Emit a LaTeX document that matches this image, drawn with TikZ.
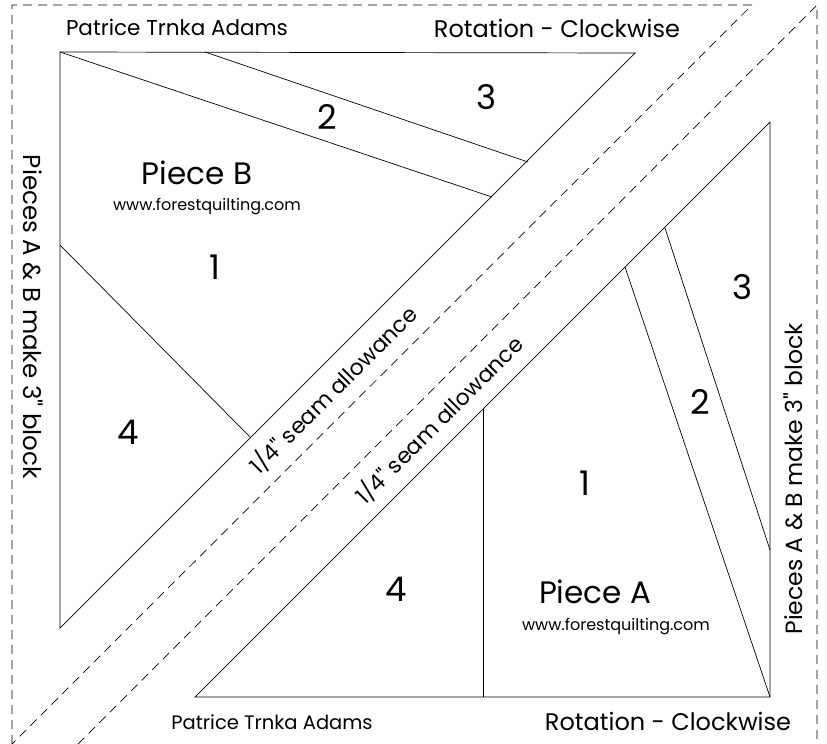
\documentclass[tikz,border=0pt]{standalone}
\usepackage{fontspec}
\setmainfont{Poppins}[Ligatures=TeXOff]
\usepackage{tikz}

\begin{document}
\begin{tikzpicture}[x=1pt,y=-1pt]
	\tikzstyle{piece_line} = [draw=black, line width=0.7pt]
	\tikzstyle{seam_line} = [draw=black, line width=0.7pt, dash pattern=on 9pt off 6pt]
	\tikzstyle{label_num} = [inner sep=0pt, font=\fontsize{34}{34}\selectfont]
	\tikzstyle{label_piece} = [inner sep=0pt, font=\fontsize{31}{31}\selectfont]
	\tikzstyle{label_url} = [inner sep=0pt, font=\fontsize{16}{16}\selectfont]
	\tikzstyle{label_side} = [inner sep=0pt, font=\fontsize{24}{24}\selectfont]
	\tikzstyle{label_seam} = [inner sep=0pt, font=\fontsize{22}{22}\selectfont, rotate=45]

	\useasboundingbox (0,0) rectangle (827,744);

%------------------------------------------------------------
	\coordinate (d1_top) at (12,5);
	\coordinate (d1_right) at (752,5);
	\coordinate (d1_bottom) at (12,744);
	\draw[seam_line] (d1_bottom) -- (d1_top) -- (d1_right) -- cycle;

	\coordinate (d2_top) at (817,5);
	\coordinate (d2_bottom) at (817,744);
	\coordinate (d2_left) at (78,744);
	\draw[seam_line] (d2_left) -- (d2_top) -- (d2_bottom);

%------------------------------------------------------------
	\coordinate (b0) at (60,52);
	\coordinate (b1) at (635,53);
	\coordinate (b2) at (60,628);
	\coordinate (b3) at (205,52);
	\coordinate (b4) at (528,162);
	\coordinate (b5) at (492,197);
	\coordinate (b6) at (60,245);
	\coordinate (b7) at (250,437);

	\draw[piece_line] (b0) -- (b1) -- (b2) -- cycle;
	\draw[piece_line] (b0) -- (b5);
	\draw[piece_line] (b3) -- (b4);
	\draw[piece_line] (b6) -- (b7);

%------------------------------------------------------------
	\coordinate (a0) at (770,697);
	\coordinate (a1) at (770,122);
	\coordinate (a2) at (195,697);
	\coordinate (a3) at (483,697);
	\coordinate (a4) at (483,409);
	\coordinate (a5) at (625,267);
	\coordinate (a6) at (665,228);
	\coordinate (a7) at (770,550);

	\draw[piece_line] (a0) -- (a1) -- (a2) -- cycle;
	\draw[piece_line] (a3) -- (a4);
	\draw[piece_line] (a0) -- (a5);
	\draw[piece_line] (a6) -- (a7);

%------------------------------------------------------------
	\node[label_num] (b_n1) at (215,267) {1};
	\node[label_num] (b_n2) at (327,117) {2};
	\node[label_num] (b_n3) at (487,97) {3};
	\node[label_num] (b_n4) at (128,432) {4};
	\node[label_piece] (b_name) at (197,173) {Piece B};
	\node[label_url] (b_url) at (207,207) {www.forestquilting.com};

	\node[label_num] (a_n1) at (585,483) {1};
	\node[label_num] (a_n2) at (700,402) {2};
	\node[label_num] (a_n3) at (743,287) {3};
	\node[label_num] (a_n4) at (396,589) {4};
	\node[label_piece] (a_name) at (595,592) {Piece A};
	\node[label_url] (a_url) at (616,627) {www.forestquilting.com};

%------------------------------------------------------------
	\node[label_side, font=\fontsize{21.5}{21.5}\selectfont] (b_author) at (177,27) {Patrice Trnka Adams};
	\node[label_side] (b_turn) at (557,28) {Rotation - Clockwise};
	\node[label_side, font=\fontsize{24.5}{24.5}\selectfont, rotate=-90] (b_block) at (33,317) {Pieces A \& B make 3" block};
	\node[label_seam] (b_seam) at (333,390) {1/4" seam allowance};

	\node[label_side, font=\fontsize{19.5}{19.5}\selectfont] (a_author) at (272,722) {Patrice Trnka Adams};
	\node[label_side] (a_turn) at (668,721) {Rotation - Clockwise};
	\node[label_side, font=\fontsize{23.5}{23.5}\selectfont, rotate=90] (a_block) at (793,479) {Pieces A \& B make 3" block};
	\node[label_seam] (a_seam) at (439,420) {1/4" seam allowance};

\end{tikzpicture}
\end{document}
